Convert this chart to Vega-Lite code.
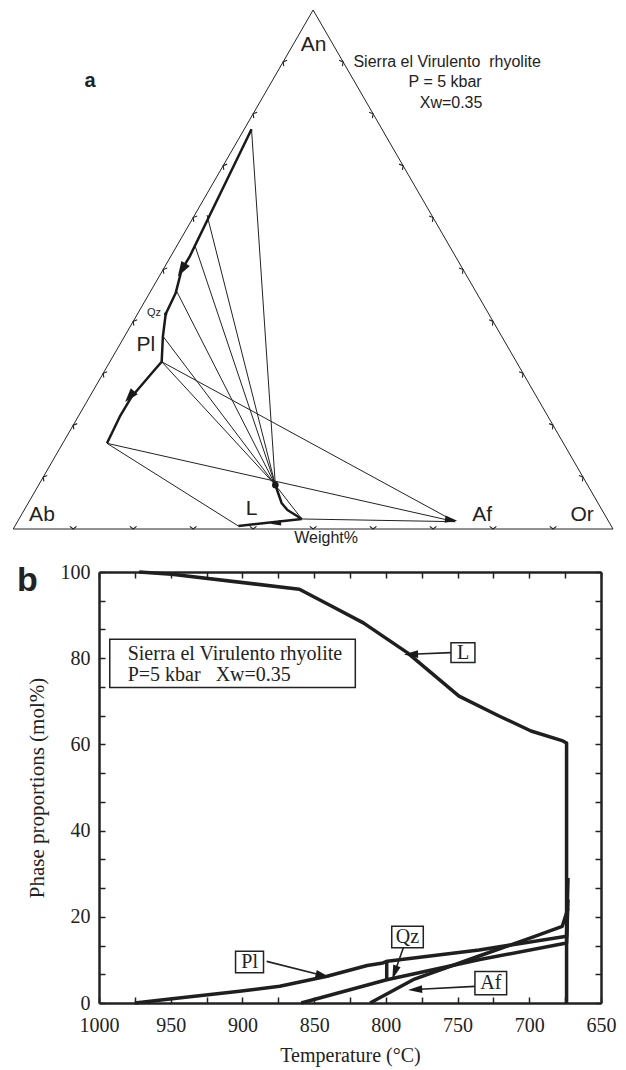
{
"$schema": "https://vega.github.io/schema/vega-lite/v6.json",
"background": "white",
"padding": {"left": 11, "top": 8, "right": 5, "bottom": 5},
"spacing": 16,
"config": {"view": {"stroke": null}},
"datasets": {
"tern_thin": [
{"seg":"tri","o":1,"X":0,"Y":0},{"seg":"tri","o":2,"X":100,"Y":0},{"seg":"tri","o":3,"X":50,"Y":100},{"seg":"tri","o":4,"X":0,"Y":0},
{"seg":"tie1","o":1,"X":43.7,"Y":8.48},{"seg":"tie1","o":2,"X":39.73,"Y":77.01},
{"seg":"tie2","o":1,"X":43.7,"Y":8.48},{"seg":"tie2","o":2,"X":32.31,"Y":60.5},
{"seg":"tie3","o":1,"X":43.7,"Y":8.48},{"seg":"tie3","o":2,"X":30.36,"Y":54.39},
{"seg":"tie4","o":1,"X":43.7,"Y":8.48},{"seg":"tie4","o":2,"X":27.14,"Y":46.05},
{"seg":"tie5","o":1,"X":43.7,"Y":8.48},{"seg":"tie5","o":2,"X":25.02,"Y":37.05},
{"seg":"tie6","o":1,"X":43.7,"Y":8.48},{"seg":"tie6","o":2,"X":24.75,"Y":32.23},
{"seg":"long1","o":1,"X":24.75,"Y":32.23},{"seg":"long1","o":2,"X":73.68,"Y":1.41},
{"seg":"long2","o":1,"X":15.63,"Y":16.51},{"seg":"long2","o":2,"X":73.68,"Y":1.41},
{"seg":"long3","o":1,"X":15.63,"Y":16.51},{"seg":"long3","o":2,"X":37.53,"Y":0.58},
{"seg":"caf","o":1,"X":48.11,"Y":1.93},{"seg":"caf","o":2,"X":73.68,"Y":1.41},
{"seg":"lc","o":1,"X":43.7,"Y":8.48},{"seg":"lc","o":2,"X":48.11,"Y":1.93}
],
"tern_thick": [
{"seg":"pl","o":1,"X":39.73,"Y":77.01},{"seg":"pl","o":2,"X":29.41,"Y":52.47},{"seg":"pl","o":3,"X":28.07,"Y":49.9},
{"seg":"pl","o":4,"X":27.07,"Y":45.41},{"seg":"pl","o":5,"X":25.42,"Y":41.43},{"seg":"pl","o":6,"X":24.95,"Y":37.05},
{"seg":"pl","o":7,"X":24.75,"Y":32.23},{"seg":"pl","o":8,"X":23.09,"Y":30.0},{"seg":"pl","o":9,"X":19.75,"Y":25.49},
{"seg":"pl","o":10,"X":17.76,"Y":21.64},{"seg":"pl","o":11,"X":15.63,"Y":16.51},
{"seg":"lp","o":1,"X":43.7,"Y":8.48},{"seg":"lp","o":2,"X":44.77,"Y":4.95},{"seg":"lp","o":3,"X":45.72,"Y":3.66},{"seg":"lp","o":4,"X":48.11,"Y":1.93},
{"seg":"bc","o":1,"X":37.53,"Y":0.58},{"seg":"bc","o":2,"X":48.11,"Y":1.93}
],
"tern_arrows": [
{"id":"a1","X":28.09,"Y":49.9},{"id":"a2","X":19.42,"Y":25.49},{"id":"a3","X":43.74,"Y":1.1},{"id":"a4","X":73.01,"Y":1.73}
],
"tern_dots": [{"id":"L","X":43.7,"Y":8.48},{"id":"Qz","X":25.42,"Y":41.43}],
"tern_ticks": [
{"side":"bottom","X":10,"Y":0},{"side":"bottom","X":20,"Y":0},{"side":"bottom","X":30,"Y":0},{"side":"bottom","X":40,"Y":0},{"side":"bottom","X":50,"Y":0},{"side":"bottom","X":60,"Y":0},{"side":"bottom","X":70,"Y":0},{"side":"bottom","X":80,"Y":0},{"side":"bottom","X":90,"Y":0},
{"side":"left","X":5,"Y":10},{"side":"left","X":10,"Y":20},{"side":"left","X":15,"Y":30},{"side":"left","X":20,"Y":40},{"side":"left","X":25,"Y":50},{"side":"left","X":30,"Y":60},{"side":"left","X":35,"Y":70},{"side":"left","X":40,"Y":80},{"side":"left","X":45,"Y":90},
{"side":"right","X":95,"Y":10},{"side":"right","X":90,"Y":20},{"side":"right","X":85,"Y":30},{"side":"right","X":80,"Y":40},{"side":"right","X":75,"Y":50},{"side":"right","X":70,"Y":60},{"side":"right","X":65,"Y":70},{"side":"right","X":60,"Y":80},{"side":"right","X":55,"Y":90}
],
"tern_text": [
{"kind":"big","label":"An","X":50.06,"Y":93.26},
{"kind":"big","label":"Ab","X":4.79,"Y":2.7},
{"kind":"big","label":"Or","X":94.86,"Y":2.7},
{"kind":"big","label":"Af","X":78.18,"Y":2.7},
{"kind":"big","label":"L","X":39.73,"Y":3.85},
{"kind":"big","label":"Pl","X":22.13,"Y":35.45},
{"kind":"qz","label":"Qz","X":23.47,"Y":41.7},
{"kind":"a","label":"a","X":12.81,"Y":86.3},
{"kind":"info","label":"Sierra el Virulento\u00a0\u00a0rhyolite","X":72.34,"Y":89.98},
{"kind":"info","label":"P = 5 kbar","X":72.01,"Y":86.13},
{"kind":"info","label":"Xw=0.35","X":73.0,"Y":82.08},
{"kind":"info","label":"Weight%","X":52.16,"Y":-1.73}
],
"curves": [
{"series":"L","o":1,"T":972,"p":100},{"series":"L","o":2,"T":949.3,"p":99.5},{"series":"L","o":3,"T":860.3,"p":96.0},
{"series":"L","o":4,"T":838,"p":92.1},{"series":"L","o":5,"T":815.7,"p":88.2},{"series":"L","o":6,"T":785.1,"p":81.3},
{"series":"L","o":7,"T":749,"p":71.2},{"series":"L","o":8,"T":721.1,"p":66.6},{"series":"L","o":9,"T":698.8,"p":63.1},
{"series":"L","o":10,"T":676.6,"p":60.8},{"series":"L","o":11,"T":674,"p":60.3},{"series":"L","o":12,"T":674,"p":0},
{"series":"Pl","o":1,"T":975,"p":0},{"series":"Pl","o":2,"T":949,"p":1.0},{"series":"Pl","o":3,"T":902,"p":2.7},
{"series":"Pl","o":4,"T":874,"p":3.9},{"series":"Pl","o":5,"T":841,"p":6.2},{"series":"Pl","o":6,"T":813,"p":8.7},
{"series":"Pl","o":7,"T":802,"p":9.3},{"series":"Pl","o":8,"T":799,"p":9.7},{"series":"Pl","o":9,"T":735,"p":12.3},
{"series":"Pl","o":10,"T":674,"p":15.5},{"series":"Pl","o":11,"T":673,"p":29},
{"series":"Qz","o":1,"T":859,"p":0},{"series":"Qz","o":2,"T":799.4,"p":5.4},{"series":"Qz","o":3,"T":734.4,"p":10.1},
{"series":"Qz","o":4,"T":674,"p":13.9},{"series":"Qz","o":5,"T":673,"p":24},
{"series":"Af","o":1,"T":811,"p":0},{"series":"Af","o":2,"T":781,"p":5.4},{"series":"Af","o":3,"T":735,"p":10.9},
{"series":"Af","o":4,"T":700,"p":15.0},{"series":"Af","o":5,"T":677,"p":17.8},{"series":"Af","o":6,"T":673,"p":22},
{"series":"link","o":1,"T":799.4,"p":5.4},{"series":"link","o":2,"T":799.4,"p":9.7}
],
"arrows": [
{"id":"L","o":1,"T":754.6,"p":81.3},{"id":"L","o":2,"T":782.5,"p":80.9},
{"id":"Pl","o":1,"T":883.1,"p":9.66},{"id":"Pl","o":2,"T":844,"p":6.4},
{"id":"Qz","o":1,"T":787.8,"p":12.8},{"id":"Qz","o":2,"T":793.9,"p":7.06},
{"id":"Af","o":1,"T":737.9,"p":3.86},{"id":"Af","o":2,"T":779.6,"p":3.13}
],
"heads": [
{"id":"L","T":782.5,"p":80.9},{"id":"Pl","T":844,"p":6.4},{"id":"Qz","T":793.9,"p":7.06},{"id":"Af","T":779.6,"p":3.13}
],
"boxes": [
{"id":"main","T1":992.5,"T2":821.3,"p1":84.4,"p2":73.2},
{"id":"L","T1":754.6,"T2":737.9,"p1":83.6,"p2":79.0},
{"id":"Pl","T1":904.8,"T2":885.3,"p1":12.0,"p2":7.0},
{"id":"Qz","T1":795.9,"T2":773.9,"p1":17.8,"p2":12.8},
{"id":"Af","T1":737.9,"T2":715.8,"p1":7.3,"p2":1.9}
],
"labels": [
{"kind":"box","label":"L","T":746.2,"p":81.3},
{"kind":"box","label":"Pl","T":895,"p":9.5},
{"kind":"box","label":"Qz","T":784.9,"p":15.3},
{"kind":"box","label":"Af","T":726.8,"p":4.6},
{"kind":"main","label":"Sierra el Virulento rhyolite","T":980,"p":80.9},
{"kind":"main","label":"P=5 kbar\u00a0\u00a0\u00a0Xw=0.35","T":980,"p":76.2},
{"kind":"panel","label":"b","T":1050,"p":95.5}
]
},
"vconcat": [
{
"width": 514, "height": 519,
"encoding": {
"x": {"field":"X","type":"quantitative","scale":{"domain":[14.3,100],"nice":false,"zero":false},"axis":null},
"y": {"field":"Y","type":"quantitative","scale":{"domain":[0,100],"nice":false,"zero":false},"axis":null}
},
"layer": [
{"data":{"name":"tern_thin"},"mark":{"type":"line","stroke":"#222","strokeWidth":1,"clip":false},
 "encoding":{"detail":{"field":"seg","type":"nominal"},"order":{"field":"o","type":"quantitative"}}},
{"data":{"name":"tern_thick"},"mark":{"type":"line","stroke":"#1a1a1a","strokeWidth":2.5,"strokeJoin":"round","clip":false},
 "encoding":{"detail":{"field":"seg","type":"nominal"},"order":{"field":"o","type":"quantitative"}}},
{"data":{"name":"tern_ticks"},"transform":[{"filter":"datum.side === 'bottom'"}],
 "mark":{"type":"point","shape":"M-1,-0.8L0,0L1,-0.8","filled":false,"stroke":"#222","strokeWidth":1.1,"opacity":1,"size":45,"angle":0,"clip":false}},
{"data":{"name":"tern_ticks"},"transform":[{"filter":"datum.side === 'left'"}],
 "mark":{"type":"point","shape":"M-1,-0.8L0,0L1,-0.8","filled":false,"stroke":"#222","strokeWidth":1.1,"opacity":1,"size":45,"angle":120,"clip":false}},
{"data":{"name":"tern_ticks"},"transform":[{"filter":"datum.side === 'right'"}],
 "mark":{"type":"point","shape":"M-1,-0.8L0,0L1,-0.8","filled":false,"stroke":"#222","strokeWidth":1.1,"opacity":1,"size":45,"angle":240,"clip":false}},
{"data":{"name":"tern_arrows"},"transform":[{"filter":"datum.id === 'a1'"}],
 "mark":{"type":"point","shape":"M1,0L-1,-0.65L-1,0.65Z","filled":true,"color":"#1a1a1a","opacity":1,"size":230,"angle":121}},
{"data":{"name":"tern_arrows"},"transform":[{"filter":"datum.id === 'a2'"}],
 "mark":{"type":"point","shape":"M1,0L-1,-0.65L-1,0.65Z","filled":true,"color":"#1a1a1a","opacity":1,"size":200,"angle":130}},
{"data":{"name":"tern_arrows"},"transform":[{"filter":"datum.id === 'a3'"}],
 "mark":{"type":"point","shape":"M1,0L-1,-0.5L-1,0.5Z","filled":true,"color":"#1a1a1a","opacity":1,"size":120,"angle":174}},
{"data":{"name":"tern_arrows"},"transform":[{"filter":"datum.id === 'a4'"}],
 "mark":{"type":"point","shape":"M1,0L-1,-0.6L-1,0.6Z","filled":true,"color":"#1a1a1a","opacity":1,"size":150,"angle":8}},
{"data":{"name":"tern_dots"},"transform":[{"filter":"datum.id === 'L'"}],
 "mark":{"type":"point","shape":"circle","filled":true,"color":"#1a1a1a","opacity":1,"size":45}},
{"data":{"name":"tern_dots"},"transform":[{"filter":"datum.id === 'Qz'"}],
 "mark":{"type":"point","shape":"circle","filled":true,"color":"#1a1a1a","opacity":1,"size":12}},
{"data":{"name":"tern_text"},"transform":[{"filter":"datum.kind === 'big'"}],
 "mark":{"type":"text","font":"Liberation Sans","fontSize":21,"color":"#222","align":"center","baseline":"middle"},
 "encoding":{"text":{"field":"label"}}},
{"data":{"name":"tern_text"},"transform":[{"filter":"datum.kind === 'info'"}],
 "mark":{"type":"text","font":"Liberation Sans","fontSize":16,"color":"#222","align":"center","baseline":"middle"},
 "encoding":{"text":{"field":"label"}}},
{"data":{"name":"tern_text"},"transform":[{"filter":"datum.kind === 'qz'"}],
 "mark":{"type":"text","font":"Liberation Sans","fontSize":11,"color":"#222","align":"center","baseline":"middle"},
 "encoding":{"text":{"field":"label"}}},
{"data":{"name":"tern_text"},"transform":[{"filter":"datum.kind === 'a'"}],
 "mark":{"type":"text","font":"Liberation Sans","fontSize":20,"fontWeight":"bold","color":"#222","align":"center","baseline":"middle"},
 "encoding":{"text":{"field":"label"}}}
]
},
{
"width": 502, "height": 431,
"encoding": {
"x": {"field":"T","type":"quantitative","scale":{"domain":[650,1000],"reverse":true,"nice":false,"zero":false},"axis":null},
"y": {"field":"p","type":"quantitative","scale":{"domain":[0,100],"nice":false,"zero":false},"axis":null}
},
"layer": [
{"data":{"name":"curves"},"mark":{"type":"line","stroke":"#1f1f1f","strokeWidth":3.5,"strokeJoin":"round","clip":false},
 "encoding":{
  "x":{"field":"T","type":"quantitative","axis":{"orient":"bottom","values":[650,675,700,725,750,775,800,825,850,875,900,925,950,975,1000],"format":"d","labelExpr":"datum.value % 50 === 0 ? datum.label : ''","tickSize":-6,"tickWidth":1.5,"tickColor":"#222","domainColor":"#222","domainWidth":2.5,"labelFont":"Liberation Serif","labelFontSize":20,"labelColor":"#222","labelPadding":18,"labelFlush":false,"labelOverlap":false,"labelBound":false,"grid":false,"title":"Temperature (°C)","titleFont":"Liberation Serif","titleFontSize":20,"titleFontWeight":"normal","titleColor":"#222","titlePadding":10}},
  "y":{"field":"p","type":"quantitative","axis":{"orient":"left","values":[0,6.6667,13.3333,20,26.6667,33.3333,40,46.6667,53.3333,60,66.6667,73.3333,80,86.6667,93.3333,100],"format":"d","labelExpr":"datum.value % 20 === 0 ? datum.label : ''","tickSize":-6,"tickWidth":1.5,"tickColor":"#222","domainColor":"#222","domainWidth":2.5,"labelFont":"Liberation Serif","labelFontSize":20,"labelColor":"#222","labelPadding":15,"labelOverlap":false,"labelBound":false,"grid":false,"title":"Phase proportions (mol%)","titleFont":"Liberation Serif","titleFontSize":21,"titleFontWeight":"normal","titleColor":"#222","titlePadding":13}},
  "detail":{"field":"series","type":"nominal"},
  "order":{"field":"o","type":"quantitative"}}},
{"data":{"name":"boxes"},"mark":{"type":"rect","fill":"white","stroke":"#222","strokeWidth":1.5},
 "encoding":{
  "x":{"field":"T1","type":"quantitative","axis":{"orient":"top","values":[650,675,700,725,750,775,800,825,850,875,900,925,950,975,1000],"labels":false,"tickSize":-6,"tickWidth":1.5,"tickColor":"#222","domainColor":"#222","domainWidth":2.5,"grid":false,"title":null}},
  "x2":{"field":"T2"},
  "y":{"field":"p1","type":"quantitative","axis":{"orient":"right","values":[0,6.6667,13.3333,20,26.6667,33.3333,40,46.6667,53.3333,60,66.6667,73.3333,80,86.6667,93.3333,100],"labels":false,"tickSize":-6,"tickWidth":1.5,"tickColor":"#222","domainColor":"#222","domainWidth":2.5,"grid":false,"title":null}},
  "y2":{"field":"p2"}}},
{"data":{"name":"arrows"},"mark":{"type":"line","stroke":"#222","strokeWidth":1.6,"clip":false},
 "encoding":{"detail":{"field":"id","type":"nominal"},"order":{"field":"o","type":"quantitative"}}},
{"data":{"name":"heads"},"transform":[{"filter":"datum.id === 'L'"}],
 "mark":{"type":"point","shape":"M1,0L-1,-0.55L-1,0.55Z","filled":true,"color":"#1a1a1a","opacity":1,"size":200,"angle":178}},
{"data":{"name":"heads"},"transform":[{"filter":"datum.id === 'Pl'"}],
 "mark":{"type":"point","shape":"M1,0L-1,-0.55L-1,0.55Z","filled":true,"color":"#1a1a1a","opacity":1,"size":200,"angle":14}},
{"data":{"name":"heads"},"transform":[{"filter":"datum.id === 'Qz'"}],
 "mark":{"type":"point","shape":"M1,0L-1,-0.55L-1,0.55Z","filled":true,"color":"#1a1a1a","opacity":1,"size":200,"angle":109}},
{"data":{"name":"heads"},"transform":[{"filter":"datum.id === 'Af'"}],
 "mark":{"type":"point","shape":"M1,0L-1,-0.55L-1,0.55Z","filled":true,"color":"#1a1a1a","opacity":1,"size":200,"angle":177}},
{"data":{"name":"labels"},"transform":[{"filter":"datum.kind === 'box'"}],
 "mark":{"type":"text","font":"Liberation Serif","fontSize":20,"color":"#222","align":"center","baseline":"middle"},
 "encoding":{"text":{"field":"label"}}},
{"data":{"name":"labels"},"transform":[{"filter":"datum.kind === 'main'"}],
 "mark":{"type":"text","font":"Liberation Serif","fontSize":20,"color":"#222","align":"left","baseline":"middle"},
 "encoding":{"text":{"field":"label"}}},
{"data":{"name":"labels"},"transform":[{"filter":"datum.kind === 'panel'"}],
 "mark":{"type":"text","font":"Liberation Sans","fontSize":34,"fontWeight":"bold","color":"#222","align":"center","baseline":"alphabetic"},
 "encoding":{"text":{"field":"label"}}}
],
"resolve": {"axis": {"x":"independent","y":"independent"}}
}
]
}
